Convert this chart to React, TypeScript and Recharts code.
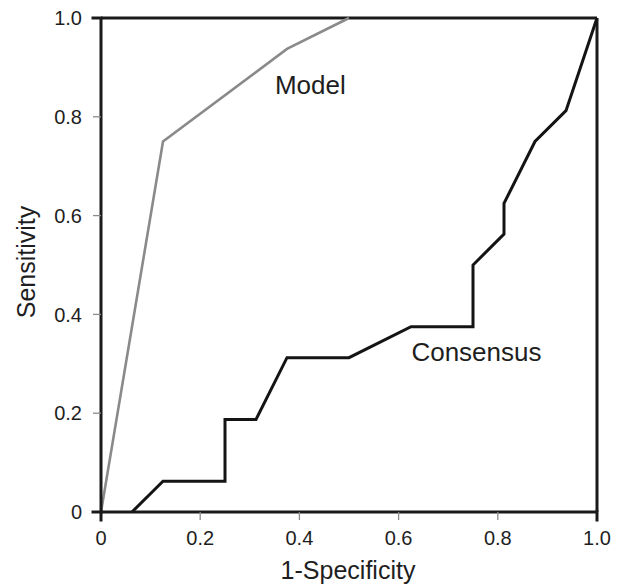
import React from 'react';
import { LineChart, Line, XAxis, YAxis, ReferenceLine, ReferenceDot } from 'recharts';

// ---- data ----
const modelX = [0, 0.125, 0.375, 0.5];
const modelY = [0, 0.75, 0.9375, 1];

const consensusX = [0.0625, 0.125, 0.25, 0.25, 0.3125, 0.375, 0.5, 0.625, 0.75, 0.75, 0.8125, 0.8125, 0.875, 0.9375, 1];
const consensusY = [0, 0.0625, 0.0625, 0.1875, 0.1875, 0.3125, 0.3125, 0.375, 0.375, 0.5, 0.5625, 0.625, 0.75, 0.8125, 1];

const tickValues = [0, 0.2, 0.4, 0.6, 0.8, 1.0];
const tickLabels = ['0', '0.2', '0.4', '0.6', '0.8', '1.0'];
const seriesNames = ['Model', 'Consensus'];
const xTitle = '1-Specificity';
const yTitle = 'Sensitivity';

const modelData = modelX.map((x, i) => ({ x, y: modelY[i] }));
const consensusData = consensusX.map((x, i) => ({ x, y: consensusY[i] }));

// ---- styles ----
const FONT = '"Liberation Sans", Arial, Helvetica, sans-serif';
const AXIS = '#1a1a1a';
const TEXT = '#1e1e1e';
const TICK_SIZE = 8;
const TICK_MARGIN = 11;

const labelFor = (v: number) => {
  const i = tickValues.findIndex((t) => Math.abs(t - v) < 1e-9);
  return i >= 0 ? tickLabels[i] : String(v);
};
const isEdge = (v: number) => Math.abs(v) < 1e-9 || Math.abs(v - 1) < 1e-9;

const XTick = (props: any) => {
  const { x, y, payload } = props;
  const edge = isEdge(payload.value);
  const yTop = y - TICK_MARGIN - TICK_SIZE;
  const yBot = y - TICK_MARGIN;
  return (
    <g>
      <line
        x1={x}
        x2={x}
        y1={yTop}
        y2={yBot}
        stroke={edge ? AXIS : '#8c8c8c'}
        strokeWidth={edge ? 3 : 1.3}
        strokeLinecap={edge ? 'square' : 'butt'}
      />
      <text x={x} y={y} dy="0.71em" textAnchor="middle" fontSize={20} fontFamily={FONT} fill={TEXT}>
        {labelFor(payload.value)}
      </text>
    </g>
  );
};

const YTick = (props: any) => {
  const { x, y, payload } = props;
  const edge = isEdge(payload.value);
  const xL = x + TICK_MARGIN;
  const xR = x + TICK_MARGIN + TICK_SIZE;
  return (
    <g>
      <line
        x1={xL}
        x2={xR}
        y1={y}
        y2={y}
        stroke={edge ? AXIS : '#8c8c8c'}
        strokeWidth={edge ? 3 : 1.3}
        strokeLinecap={edge ? 'square' : 'butt'}
      />
      <text x={x} y={y} dy="0.36em" textAnchor="end" fontSize={20} fontFamily={FONT} fill={TEXT}>
        {labelFor(payload.value)}
      </text>
    </g>
  );
};

const XTitle = (props: any) => {
  const vb = props.viewBox || {};
  const cx = (vb.x ?? 0) + (vb.width ?? 0) / 2 - 1;
  const by = (vb.y ?? 0) + 67;
  return (
    <text x={cx} y={by} textAnchor="middle" fontSize={25} fontFamily={FONT} fill={TEXT}>
      {xTitle}
    </text>
  );
};

const YTitle = (props: any) => {
  const vb = props.viewBox || {};
  const bx = (vb.x ?? 0) + 35;
  const cy = (vb.y ?? 0) + (vb.height ?? 0) / 2 - 3;
  return (
    <text
      x={bx}
      y={cy}
      textAnchor="middle"
      transform={`rotate(-90 ${bx} ${cy})`}
      fontSize={25}
      fontFamily={FONT}
      fill={TEXT}
    >
      {yTitle}
    </text>
  );
};

export default function App() {
  return (
    <div style={{ position: 'absolute', left: 0, top: 0, width: 624, height: 585, background: '#fff' }}>
      <LineChart width={624} height={585} margin={{ top: 18, right: 27, left: 0, bottom: 0 }}>
        <XAxis
          type="number"
          dataKey="x"
          domain={[0, 1]}
          ticks={tickValues}
          interval={0}
          height={73}
          axisLine={{ stroke: AXIS, strokeWidth: 3 }}
          tickLine={false}
          tickSize={TICK_SIZE}
          tickMargin={TICK_MARGIN}
          tick={<XTick />}
          label={{ content: XTitle }}
        />
        <YAxis
          type="number"
          dataKey="y"
          domain={[0, 1]}
          ticks={tickValues}
          interval={0}
          width={101}
          axisLine={{ stroke: AXIS, strokeWidth: 3 }}
          tickLine={false}
          tickSize={TICK_SIZE}
          tickMargin={TICK_MARGIN}
          tick={<YTick />}
          label={{ content: YTitle }}
        />
        <ReferenceLine y={1} stroke={AXIS} strokeWidth={3} />
        <ReferenceLine x={1} stroke={AXIS} strokeWidth={3} />
        <Line
          data={modelData}
          dataKey="y"
          name={seriesNames[0]}
          type="linear"
          stroke="#8a8a8a"
          strokeWidth={2.6}
          dot={false}
          isAnimationActive={false}
        />
        <Line
          data={consensusData}
          dataKey="y"
          name={seriesNames[1]}
          type="linear"
          stroke="#141414"
          strokeWidth={3}
          dot={false}
          isAnimationActive={false}
        />
        <ReferenceDot
          x={0.422}
          y={0.864}
          r={1}
          fill="none"
          stroke="none"
          label={{ value: seriesNames[0], position: 'center', fontSize: 26, fontFamily: FONT, fill: TEXT }}
        />
        <ReferenceDot
          x={0.757}
          y={0.324}
          r={1}
          fill="none"
          stroke="none"
          label={{ value: seriesNames[1], position: 'center', fontSize: 26, fontFamily: FONT, fill: TEXT }}
        />
      </LineChart>
    </div>
  );
}
